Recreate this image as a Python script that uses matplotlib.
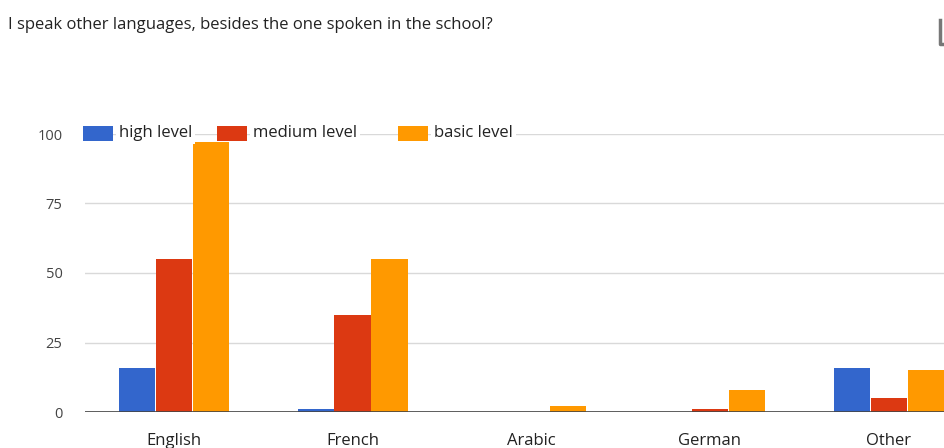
import numpy as np
import matplotlib
matplotlib.use("Agg")
import matplotlib.pyplot as plt
from matplotlib.patches import Rectangle
from matplotlib.lines import Line2D

# ── Survey answers (counts per language and level) ───────────────────────────
languages = ["English", "French", "Arabic", "German", "Other"]
series_names = ["high level", "medium level", "basic level"]
high_level = [16, 1, 0, 0, 16]
medium_level = [55, 35, 0, 1, 5]
basic_level = [97, 55, 2, 8, 15]
y_ticks = [0, 25, 50, 75, 100]

colors = ["#3366CC", "#DC3912", "#FF9900"]
title = "I speak other languages, besides the one spoken in the school?"

plt.rcParams["font.family"] = ["Open Sans", "DejaVu Sans"]

W, H = 945, 448
fig = plt.figure(figsize=(W / 100, H / 100), dpi=100)
# plot area runs past the right edge of the figure (chart is cut off there)
ax = fig.add_axes([84.6 / W, (H - 412) / H, (978 - 84.6) / W, (412 - 134) / H])

x = np.arange(len(languages))
bw = 0.207
for k, vals in enumerate([high_level, medium_level, basic_level]):
    ax.bar(x + (k - 1) * bw, vals, width=bw * 0.98, color=colors[k], zorder=3)

ax.set_xlim(-0.5, len(languages) - 0.5)
ax.set_ylim(0, 100)
ax.set_yticks(y_ticks)
ax.set_yticklabels([str(t) for t in y_ticks], fontsize=10.5, color="#444444")
ax.tick_params(axis="y", length=0, pad=16)
ax.set_xticks(x)
ax.set_xticklabels(languages, fontsize=12, color="#222222")
ax.tick_params(axis="x", length=0, pad=15)
ax.grid(axis="y", color="#D9D9D9", linewidth=1, zorder=0)
ax.axhline(0, color="#444444", linewidth=1.2, zorder=4)
for s in ax.spines.values():
    s.set_visible(False)

# ── Legend drawn inline along the top gridline ───────────────────────────────
legend_x = [83, 217, 398]     # marker left edge, pixels
legend_y = 133
for name, col, lx in zip(series_names, colors, legend_x):
    fig.patches.append(Rectangle((lx / W, (H - legend_y - 8) / H), 30 / W, 15 / H,
                                 transform=fig.transFigure, facecolor=col,
                                 edgecolor="white", linewidth=0, zorder=6))
    fig.text((lx + 36) / W, (H - legend_y) / H, name, fontsize=12,
             color="#222222", va="center", ha="left", zorder=6,
             bbox=dict(facecolor="white", edgecolor="none", pad=2))

fig.text(8 / W, (H - 25) / H, title, fontsize=12, color="#222222",
         va="center", ha="left")

# small toolbar glyph at top right
fig.add_artist(Line2D([940 / W, 940 / W, 945 / W], [(H - 20) / H, (H - 44) / H, (H - 44) / H],
                      color="#777777", linewidth=2.5))

fig.savefig("out.png", dpi=100)
